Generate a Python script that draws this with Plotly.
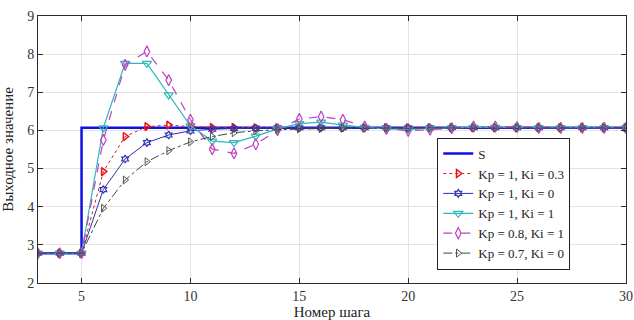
import plotly.graph_objects as go

steps = list(range(3, 31))
S = [2.78, 2.78] + [6.07] * 26
kp1_ki03 = [2.78, 2.78, 2.78, 4.92, 5.84, 6.10, 6.14, 6.10, 6.08, 6.08, 6.07, 6.07, 6.07, 6.07,
            6.07, 6.07, 6.07, 6.07, 6.07, 6.07, 6.07, 6.07, 6.07, 6.07, 6.07, 6.07, 6.07, 6.07]
kp1_ki0 = [2.78, 2.78, 2.78, 4.45, 5.25, 5.68, 5.88, 5.99, 6.03, 6.05, 6.06, 6.07, 6.07, 6.07,
           6.07, 6.07, 6.07, 6.07, 6.07, 6.07, 6.07, 6.07, 6.07, 6.07, 6.07, 6.07, 6.07, 6.07]
kp1_ki1 = [2.78, 2.78, 2.78, 6.07, 7.76, 7.76, 6.93, 6.12, 5.72, 5.68, 5.85, 6.04, 6.18, 6.22,
           6.14, 6.08, 6.04, 6.03, 6.05, 6.07, 6.08, 6.08, 6.07, 6.07, 6.07, 6.07, 6.07, 6.07]
kp08_ki1 = [2.78, 2.78, 2.78, 5.75, 7.72, 8.07, 7.32, 6.28, 5.51, 5.40, 5.64, 6.01, 6.30, 6.36,
            6.28, 6.10, 6.04, 5.99, 6.02, 6.06, 6.10, 6.10, 6.09, 6.07, 6.07, 6.07, 6.07, 6.07]
kp07_ki0 = [2.78, 2.78, 2.78, 3.96, 4.70, 5.18, 5.47, 5.70, 5.84, 5.94, 5.99, 6.02, 6.04, 6.05,
            6.06, 6.06, 6.07, 6.07, 6.07, 6.07, 6.07, 6.07, 6.07, 6.07, 6.07, 6.07, 6.07, 6.07]

names = ["S", "Kp = 1, Ki = 0.3", "Kp = 1, Ki = 0", "Kp = 1, Ki = 1", "Kp = 0.8, Ki = 1", "Kp = 0.7, Ki = 0"]

SERIF = "Liberation Serif, DejaVu Serif, serif"

fig = go.Figure()
fig.add_trace(go.Scatter(x=steps, y=S, name=names[0], mode="lines", line_shape="hv",
                         line=dict(color="#1010e0", width=2.5)))
fig.add_trace(go.Scatter(x=steps, y=kp1_ki03, name=names[1], mode="lines+markers",
                         line=dict(color="#cc2020", width=1, dash="dot"),
                         marker=dict(symbol="triangle-right-open", size=7, color="#ee1010", line=dict(width=1.5))))
fig.add_trace(go.Scatter(x=steps, y=kp1_ki0, name=names[2], mode="lines+markers",
                         line=dict(color="#3030a8", width=1),
                         marker=dict(symbol="hexagram-open", size=6, color="#3535b8", line=dict(width=1.2))))
fig.add_trace(go.Scatter(x=steps, y=kp1_ki1, name=names[3], mode="lines+markers",
                         line=dict(color="#30b8b8", width=1.2),
                         marker=dict(symbol="triangle-down-open", size=8, color="#30b8b8", line=dict(width=1.2))))
fig.add_trace(go.Scatter(x=steps, y=kp08_ki1, name=names[4], mode="lines+markers",
                         line=dict(color="#c040c0", width=1.2, dash="dash"),
                         marker=dict(symbol="diamond-tall-open", size=8, color="#c040c0", line=dict(width=1.2))))
fig.add_trace(go.Scatter(x=steps, y=kp07_ki0, name=names[5], mode="lines+markers",
                         line=dict(color="#444444", width=1, dash="dashdot"),
                         marker=dict(symbol="triangle-right-open", size=7, color="#555555", line=dict(width=1))))

axis_common = dict(showgrid=True, gridcolor="#e3e3e3", gridwidth=1, showline=True, linecolor="#2a2a2a",
                   linewidth=1, mirror="ticks", ticks="inside", ticklen=5, tickcolor="#2a2a2a",
                   zeroline=False, automargin=False,
                   tickfont=dict(family=SERIF, size=14, color="#333333"))

fig.update_xaxes(range=[3, 30], tickvals=[5, 10, 15, 20, 25, 30],
                 title=dict(text="Номер шага",
                            font=dict(family=SERIF, size=15, color="#222222")),
                 **axis_common)
fig.update_yaxes(range=[2, 9], tickvals=[2, 3, 4, 5, 6, 7, 8, 9],
                 title=dict(text="Выходное значение",
                            font=dict(family=SERIF, size=15, color="#222222")),
                 **axis_common)

fig.update_layout(
    width=634, height=320,
    margin=dict(l=38, r=8, t=16, b=37),
    paper_bgcolor="white", plot_bgcolor="white",
    font=dict(family=SERIF),
    showlegend=True,
    legend=dict(x=0.679, y=0.05, xanchor="left", yanchor="bottom",
                bgcolor="white", bordercolor="#222222", borderwidth=1,
                font=dict(family=SERIF, size=13, color="#222222"),
                tracegroupgap=0, itemwidth=30),
)

fig.write_html("out.html")
